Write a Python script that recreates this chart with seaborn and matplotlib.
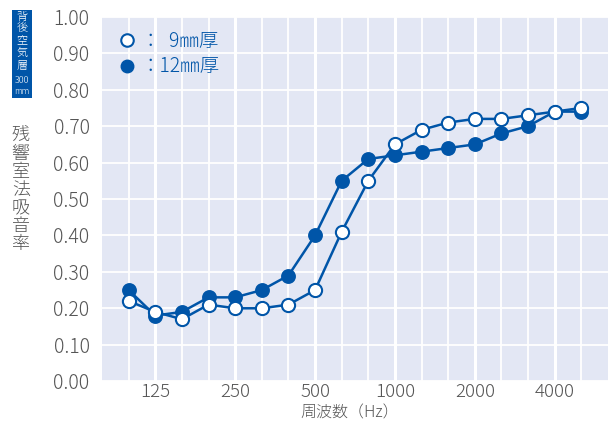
import matplotlib
matplotlib.use("Agg")
import matplotlib.pyplot as plt
import pandas as pd
import seaborn as sns
from matplotlib.lines import Line2D
from matplotlib.patches import Rectangle

# 1/3 octave band centre frequencies (Hz)
freqs = [100, 125, 160, 200, 250, 315, 400, 500, 630, 800,
         1000, 1250, 1600, 2000, 2500, 3150, 4000, 5000]
tick_labels = ["125", "250", "500", "1000", "2000", "4000"]
tick_freqs = [125, 250, 500, 1000, 2000, 4000]

# absorption coefficients
abs_9mm = [0.22, 0.19, 0.17, 0.21, 0.20, 0.20, 0.21, 0.25, 0.41,
           0.55, 0.65, 0.69, 0.71, 0.72, 0.72, 0.73, 0.74, 0.75]
abs_12mm = [0.25, 0.18, 0.19, 0.23, 0.23, 0.25, 0.29, 0.40, 0.55,
            0.61, 0.62, 0.63, 0.64, 0.65, 0.68, 0.70, 0.74, 0.74]

tag_parts = ["背", "後", "空", "気", "層", "300", "mm"]

blue = "#0055a8"
gray = "#555555"
bg = "#e3e7f4"

sns.set_theme(style="darkgrid", rc={"axes.facecolor": bg, "grid.color": "white"})
plt.rcParams["font.family"] = ["Noto Sans CJK JP", "DejaVu Sans"]
plt.rcParams["font.weight"] = "light"

df = pd.DataFrame({
    "idx": list(range(len(freqs))) * 2,
    "value": abs_12mm + abs_9mm,
    "series": ["12mm"] * len(freqs) + ["9mm"] * len(freqs),
})

fig = plt.figure(figsize=(6.11, 4.23), dpi=100)
ax = fig.add_axes([0.167, 0.099, 0.828, 0.861])

sns.lineplot(data=df[df.series == "12mm"], x="idx", y="value", ax=ax,
             color=blue, linewidth=1.8, marker="o", markersize=9.5,
             markerfacecolor=blue, markeredgecolor=blue, markeredgewidth=1.2)
sns.lineplot(data=df[df.series == "9mm"], x="idx", y="value", ax=ax,
             color=blue, linewidth=1.8, marker="o", markersize=9.5,
             markerfacecolor="white", markeredgecolor=blue, markeredgewidth=1.5)

ax.set_xlim(-1, len(freqs))
ax.set_ylim(0, 1.0)
ax.set_xticks([freqs.index(f) for f in tick_freqs])
ax.set_xticklabels(tick_labels)
ax.set_xticks(range(len(freqs)), minor=True)
ax.set_yticks([i / 10 for i in range(11)])
ax.set_yticklabels([f"{i / 10:.2f}" for i in range(11)])
ax.grid(which="major", axis="x", color="white", linewidth=2.2)
ax.grid(which="minor", axis="x", color="white", linewidth=1.3)
ax.grid(which="major", axis="y", color="white", linewidth=1.3)
ax.tick_params(axis="x", which="both", length=0, labelsize=13.5, colors=gray, pad=1)
ax.tick_params(axis="y", which="both", length=0, labelsize=14, colors=gray, pad=9)
for s in ax.spines.values():
    s.set_visible(False)
ax.set_xlabel("")
ax.set_ylabel("")

fig.text(0.573, 0.003, "周波数（Hz）", ha="center", va="bottom", fontsize=11.5, color=gray)
fig.text(0.034, 0.55, "\n".join("残響室法吸音率"), ha="center", va="center",
         fontsize=13, color=gray, linespacing=1.0)

# blue tag top-left
fig.patches.append(Rectangle((0.0196, 0.768), 0.033, 0.208, transform=fig.transFigure,
                             facecolor=blue, edgecolor="none"))
tag_y = [17, 29, 41, 53, 66, 80, 92]
tag_size = [8, 8, 8, 8, 8, 6.5, 6]
for part, py, fs in zip(tag_parts, tag_y, tag_size):
    fig.text(0.036, 1 - py / 423, part, ha="center", va="center",
             fontsize=fs, color="white")

handles = [
    Line2D([], [], linestyle="none", marker="o", markersize=9, markerfacecolor="white",
           markeredgecolor=blue, markeredgewidth=1.5),
    Line2D([], [], linestyle="none", marker="o", markersize=9, markerfacecolor=blue,
           markeredgecolor=blue),
]
leg = ax.legend(handles, ["：  9㎜厚", "：12㎜厚"], loc="upper left",
                bbox_to_anchor=(0.0, 1.0), frameon=False, fontsize=14,
                handletextpad=0.1, handlelength=1.2, labelspacing=0.25,
                borderaxespad=0.3)
for t in leg.get_texts():
    t.set_color(blue)

fig.savefig("out.png", dpi=100)
